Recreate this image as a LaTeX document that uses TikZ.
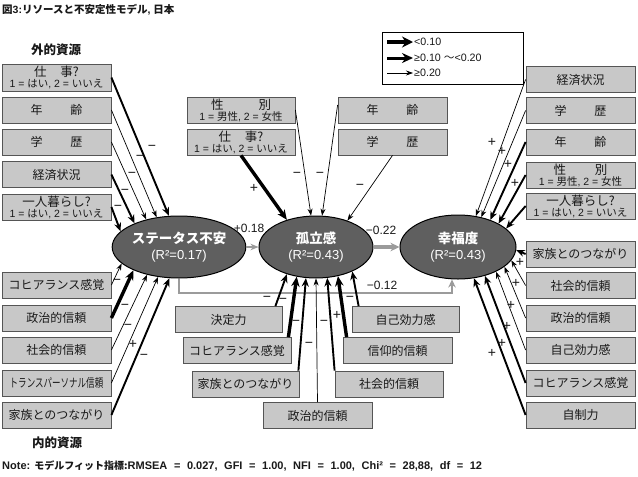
\documentclass[tikz,border=0pt]{standalone}
\usepackage{fontspec}
\setmainfont{Noto Sans CJK JP}
\newfontfamily\lat{Liberation Sans}
\usepackage{graphicx}
\usetikzlibrary{shapes.geometric,arrows.meta}
\definecolor{boxfill}{RGB}{200,200,200}
\definecolor{boxline}{RGB}{85,85,85}
\definecolor{ellfill}{RGB}{95,95,95}
\definecolor{conn}{RGB}{155,155,155}
\definecolor{ink}{RGB}{25,25,25}
\newcommand{\twoline}[2]{{\fontsize{12.5}{13}\selectfont #1}\\{\fontsize{10.5}{11}\selectfont #2}}
\newcommand{\yn}{{\lat 1 = }はい{\lat , 2 = }いいえ}
\newcommand{\mf}{{\lat 1 = }男性{\lat , 2 = }女性}
\begin{document}
\begin{tikzpicture}[x=1pt,y=-1pt,
  box/.style={draw=boxline, fill=boxfill, line width=0.8pt, minimum width=109pt, minimum height=26pt,
    inner sep=0pt, align=center, text=ink, font=\fontsize{12}{11}\selectfont},
  ell/.style={ellipse, draw=black, line width=1pt, fill=ellfill, minimum width=114pt, minimum height=62pt,
    inner sep=0pt, align=center, text=white, font=\fontsize{13}{16.5}\selectfont},
  thinar/.style={-{Stealth[length=7pt,width=5pt]}, line width=0.7pt},
  medar/.style={-{Stealth[length=8.5pt,width=7pt]}, line width=1.9pt},
  bigar/.style={-{Stealth[length=10pt,width=8.5pt]}, line width=3.4pt},
  sgn/.style={font=\lat\fontsize{14}{14}\selectfont, inner sep=0pt, text=ink},
  lbl/.style={font=\lat\fontsize{12}{12}\selectfont, inner sep=0pt, text=ink},
  plain/.style={inner sep=0pt, text=ink}]
\useasboundingbox[fill=white] (0,0) rectangle (638,477);

% titles
\node[plain, anchor=west, font=\bfseries\fontsize{10.5}{12}\selectfont] (title) at (2,10) {図{\lat 3:}リソースと不安定性モデル{\lat , }日本};
\node[plain, font=\bfseries\fontsize{12.5}{14}\selectfont] (ext) at (56,50) {外的資源};
\node[plain, font=\bfseries\fontsize{12.5}{14}\selectfont] (int) at (57,443) {内的資源};
\node[plain, anchor=west, font=\bfseries\fontsize{10}{12}\selectfont] (note) at (2,466)
  {{\lat\fontsize{11}{12}\selectfont Note: }モデルフィット指標:{\lat\fontsize{11}{12}\selectfont\spaceskip=6.6pt RMSEA = 0.027, GFI = 1.00, NFI = 1.00, Chi² = 28,88, df = 12}};

% legend
\node[draw=black, line width=0.8pt, minimum width=141pt, minimum height=52pt, inner sep=0pt] (leg) at (452.5,58) {};
\coordinate (a1) at (387,42); \coordinate (b1) at (413,42);
\coordinate (a2) at (387,58); \coordinate (b2) at (413,58);
\coordinate (a3) at (387,73); \coordinate (b3) at (413,73);
\draw[line width=4.5pt, -{Stealth[length=11pt,width=11pt]}] (a1) -- (b1);
\draw[line width=3pt, -{Stealth[length=11pt,width=10pt]}] (a2) -- (b2);
\draw[thinar] (a3) -- (b3);
\node[plain, anchor=west, font=\lat\fontsize{10.7}{12}\selectfont] (t1) at (414,42) {<0.10};
\node[plain, anchor=west, font=\lat\fontsize{10.7}{12}\selectfont] (t2) at (414,58) {≥0.10 {\rmfamily ～}<0.20};
\node[plain, anchor=west, font=\lat\fontsize{10.7}{12}\selectfont] (t3) at (414,73) {≥0.20};

% left boxes
\node[box, minimum height=27pt] (L1) at (56.5,77.5) {\twoline{仕\hspace{1.1em}事?}{\yn}};
\node[box] (L2) at (56.5,110) {年\hspace{2.3em}齢};
\node[box] (L3) at (56.5,142) {学\hspace{2.3em}歴};
\node[box] (L4) at (56.5,174.5) {経済状況};
\node[box] (L5) at (56.5,207) {\twoline{一人暮らし?}{\yn}};
\node[box] (L6) at (56.5,285) {コヒアランス感覚};
\node[box] (L7) at (56.5,318) {政治的信頼};
\node[box] (L8) at (56.5,350) {社会的信頼};
\node[box] (L9) at (56.5,383) {\scalebox{0.71}[1]{トランスパーソナル信頼}};
\node[box] (L10) at (56.5,415) {家族とのつながり};

% right boxes
\node[box] (R1) at (580.5,79.5) {経済状況};
\node[box] (R2) at (580.5,110.5) {学\hspace{2.3em}歴};
\node[box] (R3) at (580.5,142) {年\hspace{2.3em}齢};
\node[box] (R4) at (580.5,175) {\twoline{性\hspace{2.3em}別}{\mf}};
\node[box] (R5) at (580.5,206) {\twoline{一人暮らし?}{\yn}};
\node[box] (R6) at (580.5,254) {家族とのつながり};
\node[box] (R7) at (580.5,285.5) {社会的信頼};
\node[box] (R8) at (580.5,318) {政治的信頼};
\node[box] (R9) at (580.5,350) {自己効力感};
\node[box] (R10) at (580.5,383) {コヒアランス感覚};
\node[box] (R11) at (580.5,415) {自制力};

% middle top boxes
\node[box, minimum width=108pt] (T1) at (241,110) {\twoline{性\hspace{2.8em}別}{\mf}};
\node[box, minimum width=108pt] (T2) at (241,142) {\twoline{仕\hspace{1.1em}事?}{\yn}};
\node[box, minimum width=109pt] (T3) at (392.5,110) {年\hspace{2.3em}齢};
\node[box, minimum width=109pt] (T4) at (392.5,142) {学\hspace{2.3em}歴};

% bottom boxes
\node[box, minimum width=107pt] (B1) at (228.5,319.5) {決定力};
\node[box, minimum width=108pt] (B2) at (237,350.5) {コヒアランス感覚};
\node[box, minimum width=107pt] (B3) at (245.5,384) {家族とのつながり};
\node[box, minimum width=109pt] (B4) at (317.5,415.5) {政治的信頼};
\node[box, minimum width=108pt] (B5) at (389,384) {社会的信頼};
\node[box, minimum width=109pt] (B6) at (397.5,350.5) {信仰的信頼};
\node[box, minimum width=107pt] (B7) at (405.5,319.5) {自己効力感};

% ellipses
\node[ell] (SA) at (179,247) {{\bfseries\fontsize{13.5}{15}\selectfont ステータス不安}\\{\lat (R²=0.17)}};
\node[ell] (IS) at (316,247) {{\bfseries\fontsize{13.5}{15}\selectfont 孤立感}\\{\lat (R²=0.43)}};
\node[ell, minimum width=116pt, minimum height=64pt] (HP) at (458,247) {{\bfseries\fontsize{13.5}{15}\selectfont 幸福度}\\{\lat (R²=0.43)}};

% gray structural paths
\draw[conn, line width=1.6pt, -{Stealth[length=8pt,width=6.5pt]}] (SA.east) -- (IS.west);
\draw[conn, line width=3.6pt, -{Stealth[length=9pt,width=8.5pt]}] (IS.east) -- (HP.west);
\coordinate (k) at (452,293);
\draw[conn, line width=2.6pt, -{Stealth[length=8pt,width=7.5pt]}] (SA.south) |- (k) -- (HP.south -| k);
\node[lbl] (p1) at (249,228) {+0.18};
\node[lbl] (p2) at (381,230) {−0.22};
\node[lbl] (p3) at (382,285) {−0.12};

% arrows into status anxiety
\draw[medar] (L1.east) -- (SA.108);
\draw[thinar] (L2.east) -- (SA.127);
\draw[thinar] (L3.east) -- (SA.140);
\draw[medar] (L4.east) -- (SA.152);
\draw[medar] (L5.east) -- (SA.165);
\draw[thinar] (L6.east) -- (SA.196);
\draw[bigar] (L7.east) -- (SA.207);
\draw[thinar] (L8.east) -- (SA.221);
\draw[thinar] (L9.east) -- (SA.235);
\draw[medar] (L10.east) -- (SA.253);

% arrows into isolation
\draw[bigar] (T2.south) -- (IS.137);
\draw[thinar] (T1.east) -- (IS.99);
\draw[thinar] ([yshift=5pt]T3.west) -- (IS.79);
\draw[thinar] (T4.south) -- (IS.40);
\draw[medar] ([xshift=-7pt]B1.north east) -- (IS.223);
\draw[bigar] ([xshift=-3pt]B2.north east) -- (IS.237);
\draw[medar] ([xshift=-1pt]B3.north east) -- (IS.252);
\draw[thinar] (B4.north) -- (IS.270);
\draw[medar] (B5.north west) -- (IS.290);
\draw[bigar] ([xshift=4pt]B6.north west) -- (IS.307);
\draw[medar] ([xshift=7pt]B7.north west) -- (IS.326);

% arrows into happiness
\draw[thinar] (R1.west) -- (HP.60);
\draw[thinar] (R2.west) -- (HP.52);
\draw[medar] (R3.west) -- (HP.40);
\draw[medar] (R4.west) -- (HP.30);
\draw[medar] (R5.west) -- (HP.21);
\draw[medar] (R6.west) -- (HP.-3);
\draw[thinar] (R7.west) -- (HP.-14);
\draw[thinar] (R8.west) -- (HP.-23);
\draw[thinar] (R9.west) -- (HP.-33);
\draw[medar] (R10.west) -- (HP.-47);
\draw[medar] (R11.west) -- (HP.-63);

% sign labels
\foreach \x/\y/\t [count=\i] in {
  152/148/−, 140/158/−, 132/175/−, 125/192/−, 118/208/−,
  117/282/−, 125/307/−, 128/327/−, 133/344/+, 144/357/−,
  254/188/+, 297/175/−, 320/175/−, 360/187/−,
  267/299/−, 283/301/−, 296/323/−, 309/345/−, 324/323/−, 337/315/+, 350/299/−,
  492/142/+, 502/151/+, 508/164/+, 515/183/+,
  520/262/+, 516/283/+, 511/305/+, 507/326/+, 502/343/+, 492/353/+}
  \node[sgn] (s\i) at (\x,\y) {\t};
\end{tikzpicture}
\end{document}
